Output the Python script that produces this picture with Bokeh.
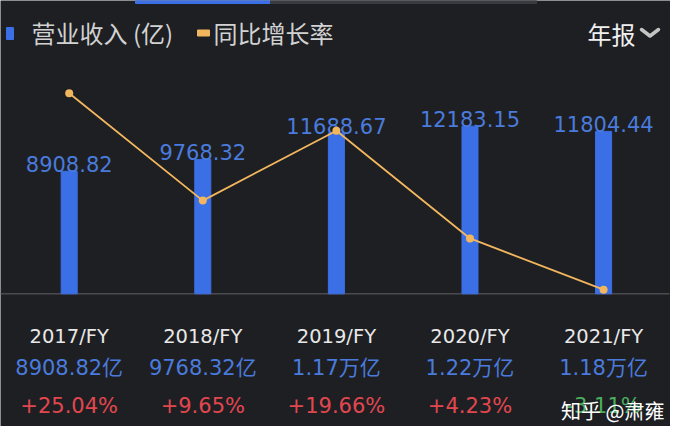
from bokeh.plotting import figure
from bokeh.models import Range1d, ColumnDataSource
from bokeh.core.properties import value
from bokeh.embed import file_html
from bokeh.resources import INLINE

# ---- data ----
years = ["2017/FY", "2018/FY", "2019/FY", "2020/FY", "2021/FY"]
revenue = [8908.82, 9768.32, 11688.67, 12183.15, 11804.44]          # 营业收入 (亿)
revenue_short = ["8908.82亿", "9768.32亿", "1.17万亿", "1.22万亿", "1.18万亿"]
growth = [25.04, 9.65, 19.66, 4.23, -3.11]                          # 同比增长率 (%)

legend_labels = ["营业收入 (亿)", "同比增长率"]
period_label = "年报"
watermark = "知乎 @肃雍"

# ---- style ----
BG = "#1e1f23"
BAR = "#3b6fe6"
BAR_TXT = "#4a7bdc"
LINE = "#f2b65e"
RED = "#e2474f"
GREEN = "#4aae5e"
WHITE = "#e8e8e8"
GREY_TXT = "#d2d2d2"
DIGIT_FONT = value("DejaVu Sans, Noto Sans CJK SC")
CJK_FONT = value("Noto Sans CJK SC")

idx = list(range(len(years)))
src = ColumnDataSource(dict(
    x=idx,
    year=years,
    rev=revenue,
    rev_lbl=[f"{v:.2f}" for v in revenue],
    rev_short=revenue_short,
    g=growth,
    g_lbl=[f"{v:+.2f}%" for v in growth],
    g_col=[RED if v >= 0 else GREEN for v in growth],
))

p = figure(width=670, height=426, output_backend="svg", toolbar_location=None,
           title=None, x_range=Range1d(-0.5142, 4.5008), y_range=Range1d(-9644, 21316),
           x_axis_location=None, y_axis_location=None, min_border=0,
           background_fill_color=BG, border_fill_color=BG, outline_line_color=None)
p.grid.visible = False
p.extra_y_ranges = {"rate": Range1d(-22.71, 38.32), "py": Range1d(426, 0)}
p.extra_x_ranges = {"px": Range1d(0, 670)}

# top tab indicator
p.quad(left=[135, 270], right=[270, 536], top=[0, 0], bottom=[3, 3],
       color=[BAR, "#3a3b40"], x_range_name="px", y_range_name="py")

# baseline
p.segment(x0=0, x1=669, y0=0, y1=0, line_color="#4a4b50", line_width=1.5, x_range_name="px")

# bars
p.vbar(x="x", top="rev", bottom=0, width=0.12, color=BAR, source=src)
p.text(x="x", y="rev", text="rev_lbl", source=src, text_align="center",
       text_baseline="alphabetic", y_offset=-7, text_font=DIGIT_FONT,
       text_font_size="21px", text_color=BAR_TXT)

# growth line
p.line(x="x", y="g", source=src, y_range_name="rate", line_color=LINE, line_width=1.8)
p.scatter(x="x", y="g", source=src, y_range_name="rate", size=8,
          fill_color=LINE, line_color=None)

# bottom rows
p.text(x="x", y=335.7, text="year", source=src, y_range_name="py", text_align="center",
       text_baseline="alphabetic", text_font=DIGIT_FONT, text_font_size="19.5px",
       text_color=WHITE)
p.text(x="x", y=367.7, text="rev_short", source=src, y_range_name="py", text_align="center",
       text_baseline="alphabetic", text_font=DIGIT_FONT, text_font_size="21px",
       text_color=BAR_TXT)
p.text(x="x", y=405, text="g_lbl", source=src, y_range_name="py", text_align="center",
       text_baseline="alphabetic", text_font=DIGIT_FONT, text_font_size="21px",
       text_color="g_col")

# legend
p.quad(left=6, right=13, top=27, bottom=39, color=BAR, x_range_name="px", y_range_name="py")
p.quad(left=197, right=209, top=29.5, bottom=35.5, color=LINE, x_range_name="px", y_range_name="py")
p.text(x=[31, 213], y=[32, 32], text=legend_labels, x_range_name="px", y_range_name="py",
       text_align="left", text_baseline="middle", text_font=CJK_FONT,
       text_font_size="24px", text_color=GREY_TXT)
p.text(x=[587], y=[33], text=[period_label], x_range_name="px", y_range_name="py",
       text_align="left", text_baseline="middle", text_font=CJK_FONT,
       text_font_size="24px", text_color="#f0f0f0")
p.line(x=[641, 649.5, 658], y=[29, 35.5, 29], x_range_name="px", y_range_name="py",
       line_color="#c4c4c4", line_width=3.5, line_cap="round", line_join="round")

# watermark
p.text(x=[664], y=[410], text=[watermark], x_range_name="px", y_range_name="py",
       text_align="right", text_baseline="middle", text_font=CJK_FONT,
       text_font_size="20px", text_color="#ffffff")

open("out.html", "w").write(file_html(p, INLINE))
